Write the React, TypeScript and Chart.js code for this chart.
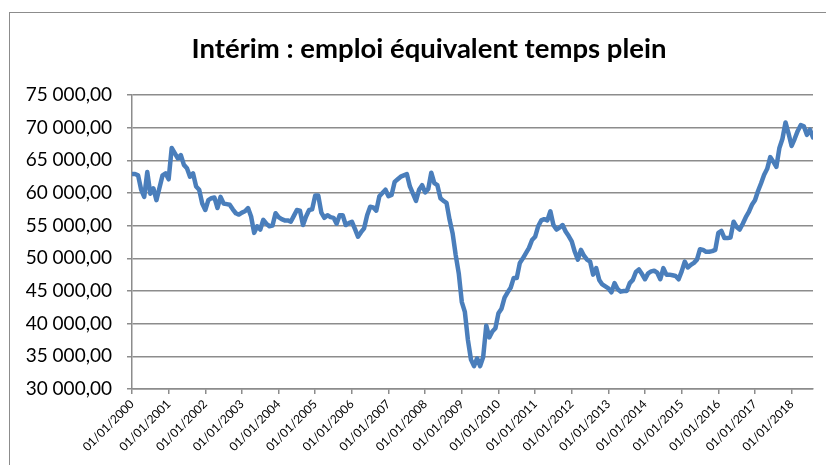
import React, { useEffect, useRef } from "react";
import { Chart, registerables } from "chart.js";

Chart.register(...registerables);

const TITLE = "Intérim : emploi équivalent temps plein";

const tickLabels = [
  "01/01/2000", "01/01/2001", "01/01/2002", "01/01/2003", "01/01/2004",
  "01/01/2005", "01/01/2006", "01/01/2007", "01/01/2008", "01/01/2009",
  "01/01/2010", "01/01/2011", "01/01/2012", "01/01/2013", "01/01/2014",
  "01/01/2015", "01/01/2016", "01/01/2017", "01/01/2018",
];

const y2000 = [62900, 62900, 62700, 60500, 59400, 63200, 59900, 60700, 58900, 60800, 62700, 63000];
const y2001 = [62100, 66900, 66100, 65300, 65800, 64300, 63800, 62500, 63000, 61000, 60500, 58400];
const y2002 = [57400, 58900, 59200, 59300, 57700, 59400, 58400, 58300, 58200, 57500, 56900, 56700];
const y2003 = [57000, 57200, 57700, 56400, 53900, 54900, 54400, 55900, 55300, 54900, 55000, 56900];
const y2004 = [56300, 56000, 55800, 55800, 55600, 56500, 57400, 57300, 55100, 56400, 57400, 57500];
const y2005 = [59600, 59600, 57000, 56200, 56600, 56300, 56200, 55300, 56600, 56600, 55100, 55400];
const y2006 = [55600, 54500, 53300, 54000, 54600, 56600, 57900, 57800, 57300, 59500, 60000, 60500];
const y2007 = [59500, 59700, 61700, 62100, 62500, 62700, 62900, 61000, 59900, 58800, 60500, 61200];
const y2008 = [60100, 60600, 63100, 61500, 61200, 59200, 58800, 58500, 55900, 53800, 50500, 47700];
const y2009 = [43300, 41800, 37500, 34500, 33500, 34700, 33500, 34900, 39700, 37900, 38800, 39300];
const y2010 = [41600, 42300, 44000, 44800, 45500, 47000, 47000, 49300, 50000, 50800, 51600, 52800];
const y2011 = [53300, 54900, 55800, 56000, 55800, 57200, 55100, 54400, 54700, 55100, 54100, 53400];
const y2012 = [52600, 51000, 49800, 51300, 50400, 49800, 49500, 47500, 48500, 46700, 46000, 45700];
const y2013 = [45400, 44800, 46200, 45300, 44900, 45000, 45000, 46200, 46700, 47900, 48300, 47600];
const y2014 = [46800, 47700, 48000, 48100, 47800, 46800, 48500, 47500, 47500, 47400, 47300, 46800];
const y2015 = [48000, 49500, 48600, 49000, 49300, 49800, 51400, 51300, 51000, 51000, 51100, 51300];
const y2016 = [53900, 54200, 53100, 53100, 53200, 55600, 54800, 54400, 55300, 56300, 57100, 58200];
const y2017 = [58900, 60300, 61500, 62800, 63700, 65500, 64800, 64000, 66900, 68300, 70800, 69100];
const y2018 = [67200, 68300, 69500, 70400, 70200, 68900, 69700, 68500];

const values = [
  ...y2000, ...y2001, ...y2002, ...y2003, ...y2004, ...y2005, ...y2006,
  ...y2007, ...y2008, ...y2009, ...y2010, ...y2011, ...y2012, ...y2013,
  ...y2014, ...y2015, ...y2016, ...y2017, ...y2018,
];

const Y_MIN = 30000;
const Y_MAX = 75000;
const Y_STEP = 5000;

function fmt(v: number): string {
  const th = Math.floor(v / 1000);
  const rest = String(Math.round(v % 1000)).padStart(3, "0");
  return `${th} ${rest},00`;
}

export default function App() {
  const ref = useRef<HTMLCanvasElement | null>(null);

  useEffect(() => {
    document.documentElement.style.overflow = "hidden";
    document.body.style.overflow = "hidden";
    const canvas = ref.current;
    if (!canvas) return;
    const grey = "#8c8c8c";
    const chart = new Chart(canvas, {
      type: "line",
      data: {
        datasets: [
          {
            data: values.map((v, i) => ({ x: i, y: v })),
            borderColor: "#4a7ebb",
            borderWidth: 4.5,
            pointRadius: 0,
            tension: 0,
            borderCapStyle: "round",
            borderJoinStyle: "round",
            fill: false,
          },
        ],
      },
      options: {
        responsive: false,
        animation: false,
        layout: { padding: 0 },
        plugins: {
          legend: { display: false },
          tooltip: { enabled: false },
          title: {
            display: true,
            text: TITLE,
            color: "#000",
            font: { family: "Lato", size: 27.5, weight: "bold" },
            padding: { top: 19.5, bottom: 29.5 },
          },
        },
        scales: {
          x: {
            type: "linear",
            min: 0,
            max: values.length - 1,
            afterFit: (s: any) => {
              s.height = 76;
            },
            grid: {
              display: true,
              drawOnChartArea: false,
              drawTicks: true,
              tickLength: 5,
              color: grey,
              lineWidth: 1.5,
            },
            border: { display: true, color: grey, width: 1.5 },
            ticks: {
              stepSize: 12,
              includeBounds: false,
              autoSkip: false,
              maxRotation: 45,
              minRotation: 45,
              padding: 3,
              color: "#000",
              font: { family: "Lato", size: 12 },
              callback: (v: any) => {
                const idx = Math.round(Number(v) / 12);
                return Number(v) % 12 === 0 ? tickLabels[idx] ?? "" : "";
              },
            },
          },
          y: {
            min: Y_MIN,
            max: Y_MAX,
            afterFit: (s: any) => {
              s.width = 122;
            },
            grid: {
              color: grey,
              lineWidth: 1.5,
              drawTicks: true,
              tickLength: 5,
            },
            border: { display: true, color: grey, width: 1.5 },
            ticks: {
              stepSize: Y_STEP,
              padding: 15,
              color: "#000",
              font: { family: "Lato", size: 19 },
              callback: (v: any) => fmt(Number(v)),
            },
          },
          spacer: {
            type: "linear",
            position: "right",
            min: 0,
            max: 1,
            afterFit: (s: any) => {
              s.width = 35;
            },
            grid: { display: false, drawTicks: false },
            border: { display: false },
            ticks: { display: false },
          },
        },
      },
    });
    return () => chart.destroy();
  }, []);

  return (
    <div
      style={{
        position: "relative",
        width: 825,
        height: 452,
        marginTop: 4,
        marginLeft: 1,
        borderTop: "1px solid #8c8c8c",
        borderLeft: "1px solid #8c8c8c",
        overflow: "hidden",
        background: "#fff",
      }}
    >
      <canvas
        ref={ref}
        width={838}
        height={452}
        style={{ position: "absolute", left: 0, top: 0, width: 838, height: 452 }}
      />
    </div>
  );
}
